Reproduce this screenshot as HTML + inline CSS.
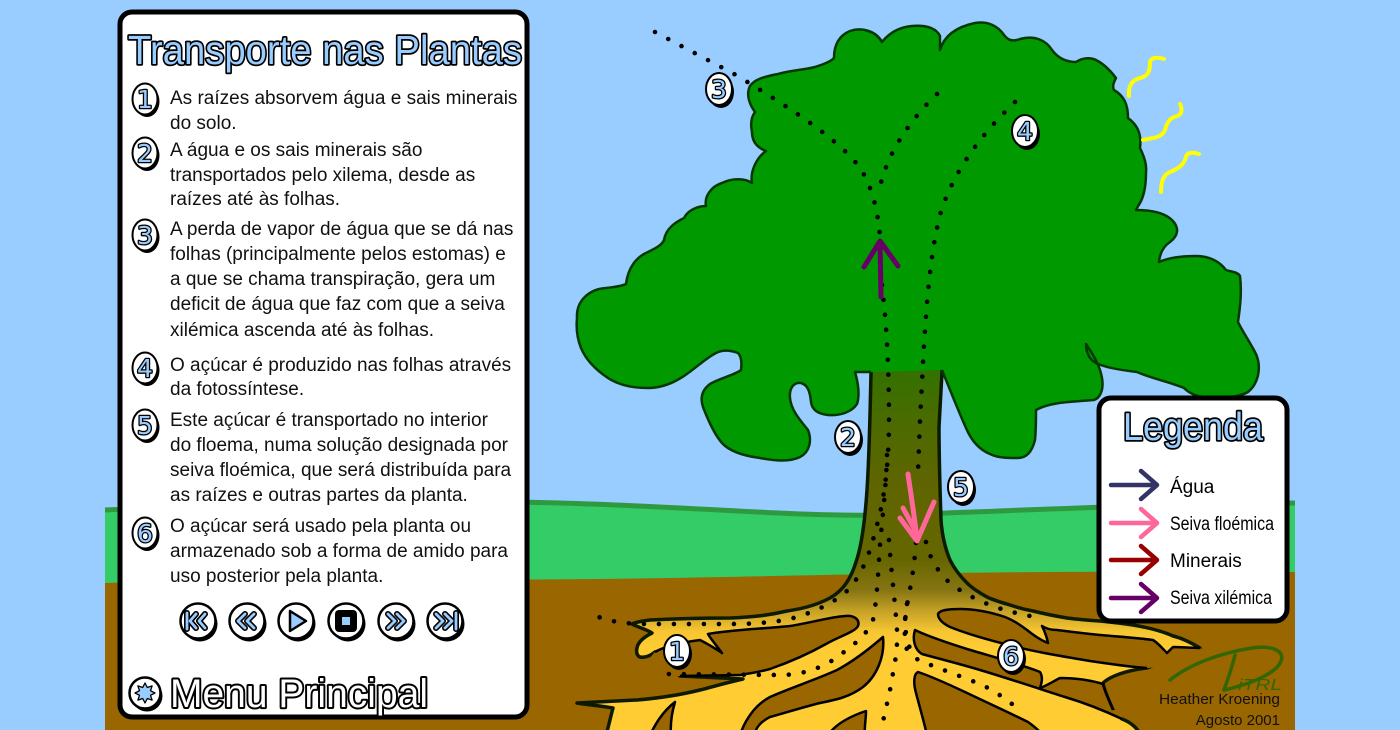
<!DOCTYPE html>
<html><head><meta charset="utf-8"><style>
html,body{margin:0;padding:0;background:#99ccff;}
body{width:1400px;height:730px;overflow:hidden;}
svg{display:block;}
.num{font-family:"DejaVu Sans",sans-serif;font-size:25px;fill:#99ccff;stroke:#000;stroke-width:2.6px;paint-order:stroke;stroke-linejoin:round;}
.dots{fill:none;stroke:#000;stroke-width:4.6;stroke-dasharray:0 15;stroke-linecap:round;}
.bay{fill:#996600;stroke:#000;stroke-width:2.5;stroke-linejoin:round;}
.ib{fill:none;stroke:#000;stroke-width:6;stroke-linecap:round;stroke-linejoin:round;}
.ia{fill:none;stroke:#99ccff;stroke-width:2.8;stroke-linecap:round;stroke-linejoin:round;}
</style></head><body>
<svg width="1400" height="730" viewBox="0 0 1400 730" xmlns="http://www.w3.org/2000/svg">
<defs>
<linearGradient id="tg" gradientUnits="userSpaceOnUse" x1="0" y1="360" x2="0" y2="650">
<stop offset="0" stop-color="#2e7300"/>
<stop offset="0.207" stop-color="#4a6b00"/>
<stop offset="0.414" stop-color="#5e6500"/>
<stop offset="0.69" stop-color="#666600"/>
<stop offset="0.793" stop-color="#857512"/>
<stop offset="0.869" stop-color="#c9a327"/>
<stop offset="0.938" stop-color="#f7c632"/>
<stop offset="1" stop-color="#ffcc33"/>
</linearGradient>
</defs>
<rect x="0" y="0" width="1400" height="730" fill="#99ccff"/>
<!-- hill -->
<path d="M105,510 C300,500 450,500 560,503 C700,507 800,517 880,515 C1000,512 1100,505 1295,503 L1295,600 L105,600 Z" fill="#33cc66"/>
<path d="M105,510 C300,500 450,500 560,503 C700,507 800,517 880,515 C1000,512 1100,505 1295,503" fill="none" stroke="#2f9940" stroke-width="5"/>
<!-- soil -->
<path d="M105,583 C300,580 500,580 600,579 C750,577 850,574 950,573 C1100,571 1200,572 1295,572 L1295,730 L105,730 Z" fill="#996600"/>

<!-- trunk + roots mass -->
<path d="M871,355 L871,372 C870,420 869,460 867,490 C865,520 862,545 856,562 C851,578 844,590 830,598 C815,606 800,609 787,611 C770,615 755,617 730,618 C700,618 670,619 650,620 C642,621 636,622 632,624 C640,628 648,630 652,633 C644,637 638,642 637,648 C636,652 637,656 640,657 C645,658 650,656 655,652 L680,676 L743,679 C725,683 712,687 700,690 C680,695 660,698 637,700 C615,701 595,702 577,703 C590,705 602,706 613,708 C611,715 609,725 606,735 L1140,735 C1138,728 1130,722 1122,719 L1113,710 C1108,698 1104,690 1103,683 C1110,676 1128,670 1147,668 L1200,648 C1190,642 1182,638 1173,636 C1160,630 1145,627 1133,625 C1120,623 1110,622 1100,621 C1085,620 1075,619 1067,618 C1055,616 1045,614 1033,611 C1022,609 1016,607 1010,605 C1000,602 993,600 987,597 C978,592 972,588 967,583 C960,576 954,568 950,560 C945,548 942,535 941,520 C940,490 939,460 939,427 L942,372 L942,355 Z" fill="url(#tg)" stroke="#0d1a00" stroke-width="3.5" stroke-linejoin="round"/>

<!-- bays -->
<path d="M655,652 C665,646 685,642 700,640 C708,644 716,649 722,653 C716,645 710,638 708,634 C730,630 760,629 790,626 C810,623 830,617 845,616 C855,615 860,620 858,626 C855,632 840,636 826,644 C810,653 790,662 770,669 C755,673 745,674 740,675 L680,676 L665,676 L648,660 Z" fill="#996600"/>
<path d="M655,652 C665,646 685,642 700,640 C708,644 716,649 722,653 C716,645 710,638 708,634 C730,630 760,629 790,626 C810,623 830,617 845,616 C855,615 860,620 858,626 C855,632 840,636 826,644 C810,653 790,662 770,669 C755,673 745,674 740,675 L680,676" fill="none" stroke="#000" stroke-width="2.5" stroke-linejoin="round"/>
<path class="bay" d="M650,735 C655,725 662,712 675,702 C672,712 670,722 671,735"/>
<path class="bay" d="M740,735 C745,720 755,705 770,697 C790,688 815,680 837,670 C852,662 868,650 883,637 C885,656 877,676 863,687 C850,697 835,700 820,703 C800,708 785,713 770,717 C760,722 756,728 754,735"/>
<path class="bay" d="M828,735 C835,725 848,717 866,711 C866,720 864,728 865,735"/>
<path class="bay" d="M927,735 C924,722 920,708 916,693 C913,682 914,674 918,672 C930,676 948,684 965,692 C988,703 1010,713 1028,722 C1035,727 1040,731 1042,735"/>
<path d="M1113,710 C1108,698 1104,690 1103,684 C1090,680 1075,678 1060,678 C1052,682 1046,686 1040,688 C1042,682 1043,677 1040,672 C1020,664 990,656 967,649 C945,642 925,635 915,630 C912,640 915,650 922,654 C940,659 960,664 980,670 C1010,679 1040,689 1065,697 C1085,703 1105,711 1122,719 L1124,709 Z" fill="#996600"/>
<path d="M1113,710 C1108,698 1104,690 1103,684 C1090,680 1075,678 1060,678 C1052,682 1046,686 1040,688 C1042,682 1043,677 1040,672 C1020,664 990,656 967,649 C945,642 925,635 915,630 C912,640 915,650 922,654 C940,659 960,664 980,670 C1010,679 1040,689 1065,697 C1085,703 1105,711 1122,719" fill="none" stroke="#000" stroke-width="2.5" stroke-linejoin="round"/>
<path d="M1200,648 C1190,648 1180,647 1173,647 C1170,650 1168,652 1167,653 C1162,648 1158,643 1153,640 C1130,637 1110,636 1100,635 C1080,633 1065,631 1057,630 C1050,630 1045,628 1042,626 C1045,632 1047,638 1048,643 C1040,640 1032,634 1027,630 C1020,625 1015,621 1005,617 C990,612 975,609 960,609 C948,609 940,610 938,614 C938,619 942,623 950,627 C965,633 985,639 1005,644 C1030,651 1060,656 1090,661 C1110,664 1130,667 1147,668 L1180,666 L1204,652 Z" fill="#996600"/>
<path d="M1200,648 C1190,648 1180,647 1173,647 C1170,650 1168,652 1167,653 C1162,648 1158,643 1153,640 C1130,637 1110,636 1100,635 C1080,633 1065,631 1057,630 C1050,630 1045,628 1042,626 C1045,632 1047,638 1048,643 C1040,640 1032,634 1027,630 C1020,625 1015,621 1005,617 C990,612 975,609 960,609 C948,609 940,610 938,614 C938,619 942,623 950,627 C965,633 985,639 1005,644 C1030,651 1060,656 1090,661 C1110,664 1130,667 1147,668" fill="none" stroke="#000" stroke-width="2.5" stroke-linejoin="round"/>

<!-- canopy -->
<path d="M871,372 L855,372 C858,382 860,395 857,404 C852,412 840,416 828,415 C818,414 812,410 811,402 C810,392 808,385 801,383 C794,382 789,388 790,398 C791,410 800,420 808,430 C812,440 810,452 800,457 C790,462 775,461 760,458 C745,456 730,452 722,443 C714,434 708,420 703,407 C700,398 702,390 710,384 C720,378 735,375 741,370 C742,362 741,356 738,353 C730,350 722,350 716,353 C706,358 696,368 684,376 C672,384 660,388 648,388 C634,388 620,386 608,378 C596,370 586,360 581,348 C577,338 576,328 577,318 C576,300 590,289 606,288 C615,287 622,286 626,284 C628,268 636,257 648,252 C656,248 662,245 664,240 C666,228 676,222 684,218 C688,210 698,206 706,206 C704,196 712,186 722,183 C732,178 745,178 752,183 C750,172 756,158 766,151 C758,148 752,142 752,132 C750,122 752,116 755,112 C749,104 746,94 750,86 C754,80 762,77 778,74 C792,70 804,70 815,67 C824,64 830,62 834,58 C834,46 838,36 850,31 C862,27 876,31 882,42 C890,32 900,27 912,26 C926,25 936,28 940,36 L940,50 C944,36 956,27 975,23 C988,21 998,26 1004,35 C1008,40 1012,42 1020,39 C1034,35 1046,40 1052,50 C1058,58 1066,62 1076,62 C1082,58 1090,57 1096,60 C1104,64 1110,70 1116,78 C1114,82 1112,86 1114,90 C1124,96 1128,104 1128,118 C1136,124 1142,132 1140,148 C1144,156 1147,164 1146,172 C1146,185 1144,196 1140,203 C1138,206 1137,208 1136,210 C1150,210 1164,212 1172,220 C1180,228 1178,236 1170,242 C1164,246 1160,252 1159,262 C1168,258 1180,256 1196,256 C1210,256 1220,262 1226,270 C1232,272 1238,272 1240,276 C1242,292 1240,308 1238,322 C1244,334 1250,342 1256,354 C1262,368 1258,384 1248,392 C1238,398 1220,398 1204,397 C1194,396 1188,392 1184,388 C1170,382 1150,378 1137,372 C1120,370 1110,368 1104,366 C1096,364 1090,360 1088,354 C1086,350 1086,346 1086,344 C1094,356 1100,366 1102,378 C1104,390 1100,398 1094,400 C1070,402 1050,402 1036,410 C1036,420 1036,430 1035,440 C1032,452 1026,458 1018,458 C1008,458 998,458 990,454 C980,450 972,442 966,428 C958,410 950,390 942,370" fill="#009900" stroke="#063806" stroke-width="2.5" stroke-linejoin="round"/>

<!-- dotted paths -->
<path class="dots" d="M655,32 L736,75 C790,108 840,140 860,168 C872,186 878,212 880,236"/>
<path class="dots" d="M937,94 C905,125 884,160 878,196"/>
<path class="dots" d="M1015,102 C975,140 950,180 940,215 C930,255 927,300 924,345 L920,420 L918,472"/>
<path class="dots" d="M882,285 C886,320 889,360 889,420 C889,465 884,500 877,525 C870,552 864,572 848,590 C834,603 815,612 790,619 C770,623 750,624 730,624 L640,624 C615,623 602,619 592,614"/>
<path class="dots" d="M887,455 C886,490 882,520 880,545 C878,575 877,600 873,620 C867,636 850,648 830,662 C812,672 795,675 780,675 L664,674"/>
<path class="dots" d="M889,540 C891,570 895,600 897,630 C898,655 893,670 891,685 C888,700 885,712 882,726"/>
<path class="dots" d="M907,604 C905,618 903,632 907,650"/>
<path class="dots" d="M916,543 C914,570 910,590 906,610 C904,630 906,648 918,660 C935,667 960,676 980,684 C993,690 1003,697 1012,704"/>
<path class="dots" d="M926,542 C930,560 940,576 955,587 C972,598 990,606 1005,610 C1015,613 1025,615 1035,617"/>

<!-- arrows on tree -->
<path d="M881,297 L880,242 M864,267 L880,241 L898,266" fill="none" stroke="#660066" stroke-width="5" stroke-linecap="round" stroke-linejoin="round"/>
<path d="M908,474 C911,495 915,520 917,540 M900,518 L917,541 L934,502 M903,508 L915,530" fill="none" stroke="#ff6699" stroke-width="5" stroke-linecap="round" stroke-linejoin="round"/>

<!-- sun squiggles -->
<g fill="none" stroke="#ffff00" stroke-width="4" stroke-linecap="round">
<path d="M1129,96 C1128,86 1132,80 1140,78 C1150,76 1150,68 1150,62 C1151,57 1158,57 1164,59"/>
<path d="M1143,140 C1152,138 1162,138 1165,130 C1167,122 1170,118 1177,116 C1183,114 1182,108 1180,104"/>
<path d="M1161,192 C1161,182 1163,175 1170,172 C1180,168 1184,164 1186,157 C1187,152 1193,152 1199,154"/>
</g>

<!-- tree badges -->
<g transform="translate(719,89)"><ellipse cx="2" cy="3" rx="13" ry="16" fill="#000"/><ellipse rx="13" ry="16" fill="#fff" stroke="#000" stroke-width="2"/><text class="num" y="9" text-anchor="middle">3</text></g>
<g transform="translate(1025,131)"><ellipse cx="2" cy="3" rx="13" ry="16" fill="#000"/><ellipse rx="13" ry="16" fill="#fff" stroke="#000" stroke-width="2"/><text class="num" y="9" text-anchor="middle">4</text></g>
<g transform="translate(848,437)"><ellipse cx="2" cy="3" rx="13" ry="16" fill="#000"/><ellipse rx="13" ry="16" fill="#fff" stroke="#000" stroke-width="2"/><text class="num" y="9" text-anchor="middle">2</text></g>
<g transform="translate(961,487)"><ellipse cx="2" cy="3" rx="13" ry="16" fill="#000"/><ellipse rx="13" ry="16" fill="#fff" stroke="#000" stroke-width="2"/><text class="num" y="9" text-anchor="middle">5</text></g>
<g transform="translate(677,651)"><ellipse cx="2" cy="3" rx="13" ry="16" fill="#000"/><ellipse rx="13" ry="16" fill="#fff" stroke="#000" stroke-width="2"/><text class="num" y="9" text-anchor="middle">1</text></g>
<g transform="translate(1011,656)"><ellipse cx="2" cy="3" rx="13" ry="16" fill="#000"/><ellipse rx="13" ry="16" fill="#fff" stroke="#000" stroke-width="2"/><text class="num" y="9" text-anchor="middle">6</text></g>

<!-- legend -->
<rect x="1099" y="398" width="188" height="223" rx="12" fill="#fff" stroke="#000" stroke-width="5"/>
<text x="1123" y="440" textLength="140" lengthAdjust="spacingAndGlyphs" font-family="'Liberation Sans', Arial, sans-serif" font-size="39" fill="#99ccff" stroke="#000" stroke-width="3.5" paint-order="stroke" stroke-linejoin="round">Legenda</text>
<g stroke-width="4.5" stroke-linecap="round" stroke-linejoin="round" fill="none">
<path d="M1111,485 H1156 M1141,471 L1157,485 L1141,499" stroke="#333366"/>
<path d="M1111,523 H1156 M1141,509 L1157,523 L1141,537" stroke="#ff6699"/>
<path d="M1111,560 H1156 M1141,546 L1157,560 L1141,574" stroke="#990000"/>
<path d="M1111,598 H1156 M1141,584 L1157,598 L1141,612" stroke="#660066"/>
</g>
<g font-family="'Liberation Sans', Arial, sans-serif" font-size="19" fill="#000">
<text x="1170" y="493">Água</text>
<text x="1170" y="530" textLength="104" lengthAdjust="spacingAndGlyphs">Seiva floémica</text>
<text x="1170" y="567">Minerais</text>
<text x="1170" y="604" textLength="102" lengthAdjust="spacingAndGlyphs">Seiva xilémica</text>
</g>

<!-- signature -->
<g fill="none" stroke="#336600" stroke-width="3.5" stroke-linecap="round">
<path d="M1170,680 C1190,664 1220,653 1252,648 C1272,645 1285,651 1281,661 C1277,672 1255,683 1224,690"/>
<path d="M1235,655 C1232,667 1228,679 1224,690"/>
</g>
<text x="1238" y="690" font-family="'Liberation Sans', Arial, sans-serif" font-style="italic" font-size="16" fill="#336600" textLength="44" lengthAdjust="spacingAndGlyphs">iTRL</text>
<g font-family="'Liberation Sans', Arial, sans-serif" font-size="15" fill="#111">
<text x="1159" y="704" textLength="121" lengthAdjust="spacingAndGlyphs">Heather Kroening</text>
<text x="1280" y="725" text-anchor="end">Agosto 2001</text>
</g>

<!-- left panel -->
<rect x="120" y="12" width="407" height="705" rx="12" fill="#fff" stroke="#000" stroke-width="5"/>
<text x="128" y="64" textLength="394" lengthAdjust="spacingAndGlyphs" font-family="'Liberation Sans', Arial, sans-serif" font-size="41" fill="#99ccff" stroke="#000" stroke-width="3.5" paint-order="stroke" stroke-linejoin="round">Transporte nas Plantas</text>

<g transform="translate(145,99)"><ellipse cx="2" cy="2.5" rx="12.5" ry="15.5" fill="#000"/><ellipse rx="12.5" ry="15.5" fill="#fff" stroke="#000" stroke-width="2"/><text class="num" y="9" text-anchor="middle">1</text></g>
<g transform="translate(145,153)"><ellipse cx="2" cy="2.5" rx="12.5" ry="15.5" fill="#000"/><ellipse rx="12.5" ry="15.5" fill="#fff" stroke="#000" stroke-width="2"/><text class="num" y="9" text-anchor="middle">2</text></g>
<g transform="translate(145,235)"><ellipse cx="2" cy="2.5" rx="12.5" ry="15.5" fill="#000"/><ellipse rx="12.5" ry="15.5" fill="#fff" stroke="#000" stroke-width="2"/><text class="num" y="9" text-anchor="middle">3</text></g>
<g transform="translate(145,368)"><ellipse cx="2" cy="2.5" rx="12.5" ry="15.5" fill="#000"/><ellipse rx="12.5" ry="15.5" fill="#fff" stroke="#000" stroke-width="2"/><text class="num" y="9" text-anchor="middle">4</text></g>
<g transform="translate(145,425)"><ellipse cx="2" cy="2.5" rx="12.5" ry="15.5" fill="#000"/><ellipse rx="12.5" ry="15.5" fill="#fff" stroke="#000" stroke-width="2"/><text class="num" y="9" text-anchor="middle">5</text></g>
<g transform="translate(145,533)"><ellipse cx="2" cy="2.5" rx="12.5" ry="15.5" fill="#000"/><ellipse rx="12.5" ry="15.5" fill="#fff" stroke="#000" stroke-width="2"/><text class="num" y="9" text-anchor="middle">6</text></g>

<g font-family="'Liberation Sans', Arial, sans-serif" font-size="19" fill="#111">
<text x="170" y="104">As raízes absorvem água e sais minerais</text>
<text x="170" y="129">do solo.</text>
<text x="170" y="156">A água e os sais minerais são</text>
<text x="170" y="181">transportados pelo xilema, desde as</text>
<text x="170" y="205">raízes até às folhas.</text>
<text x="170" y="235">A perda de vapor de água que se dá nas</text>
<text x="170" y="260">folhas (principalmente pelos estomas) e</text>
<text x="170" y="285">a que se chama transpiração, gera um</text>
<text x="170" y="310">deficit de água que faz com que a seiva</text>
<text x="170" y="336">xilémica ascenda até às folhas.</text>
<text x="170" y="371">O açúcar é produzido nas folhas através</text>
<text x="170" y="395">da fotossíntese.</text>
<text x="170" y="426">Este açúcar é transportado no interior</text>
<text x="170" y="451">do floema, numa solução designada por</text>
<text x="170" y="476">seiva floémica, que será distribuída para</text>
<text x="170" y="501">as raízes e outras partes da planta.</text>
<text x="170" y="532">O açúcar será usado pela planta ou</text>
<text x="170" y="557">armazenado sob a forma de amido para</text>
<text x="170" y="582">uso posterior pela planta.</text>
</g>

<!-- buttons -->
<g>
<circle cx="200" cy="624" r="17.5" fill="#000"/><circle cx="198" cy="621" r="17.5" fill="#fff" stroke="#000" stroke-width="2.5"/>
<circle cx="249" cy="624" r="17.5" fill="#000"/><circle cx="247" cy="621" r="17.5" fill="#fff" stroke="#000" stroke-width="2.5"/>
<circle cx="298" cy="624" r="17.5" fill="#000"/><circle cx="296" cy="621" r="17.5" fill="#fff" stroke="#000" stroke-width="2.5"/>
<circle cx="348" cy="624" r="17.5" fill="#000"/><circle cx="346" cy="621" r="17.5" fill="#fff" stroke="#000" stroke-width="2.5"/>
<circle cx="398" cy="624" r="17.5" fill="#000"/><circle cx="396" cy="621" r="17.5" fill="#fff" stroke="#000" stroke-width="2.5"/>
<circle cx="447" cy="624" r="17.5" fill="#000"/><circle cx="445" cy="621" r="17.5" fill="#fff" stroke="#000" stroke-width="2.5"/>
</g>
<path class="ib" d="M187,613 L187,629 M196,614 L190,621 L196,628 M205,614 L199,621 L205,628"/>
<path class="ia" d="M187,613 L187,629 M196,614 L190,621 L196,628 M205,614 L199,621 L205,628"/>
<path class="ib" d="M245,614 L238,621 L245,628 M254,614 L247,621 L254,628"/>
<path class="ia" d="M245,614 L238,621 L245,628 M254,614 L247,621 L254,628"/>
<polygon points="290,611 290,631 306,621" fill="#99ccff" stroke="#000" stroke-width="2.5" stroke-linejoin="round"/>
<rect x="335" y="610" width="22" height="22" rx="4" fill="#000"/>
<rect x="342" y="617" width="8" height="8" fill="#99ccff"/>
<path class="ib" d="M388,614 L395,621 L388,628 M397,614 L404,621 L397,628"/>
<path class="ia" d="M388,614 L395,621 L388,628 M397,614 L404,621 L397,628"/>
<path class="ib" d="M436,614 L443,621 L436,628 M445,614 L452,621 L445,628 M456,613 L456,629"/>
<path class="ia" d="M436,614 L443,621 L436,628 M445,614 L452,621 L445,628 M456,613 L456,629"/>

<!-- menu principal -->
<circle cx="147" cy="696" r="15.5" fill="#000"/>
<circle cx="145" cy="693" r="15.5" fill="#fff" stroke="#000" stroke-width="2.5"/>
<polygon points="155,693 150.5,695.3 152.1,700.1 147.3,698.5 145,703 142.7,698.5 137.9,700.1 139.5,695.3 135,693 139.5,690.7 137.9,685.9 142.7,687.5 145,683 147.3,687.5 152.1,685.9 150.5,690.7" fill="#99ccff" stroke="#000" stroke-width="1.3" stroke-linejoin="round"/>
<text x="170" y="707" textLength="258" lengthAdjust="spacingAndGlyphs" font-family="'Liberation Sans', Arial, sans-serif" font-size="40" fill="#fff" stroke="#000" stroke-width="4" paint-order="stroke" stroke-linejoin="round">Menu Principal</text>
</svg>
</body></html>
